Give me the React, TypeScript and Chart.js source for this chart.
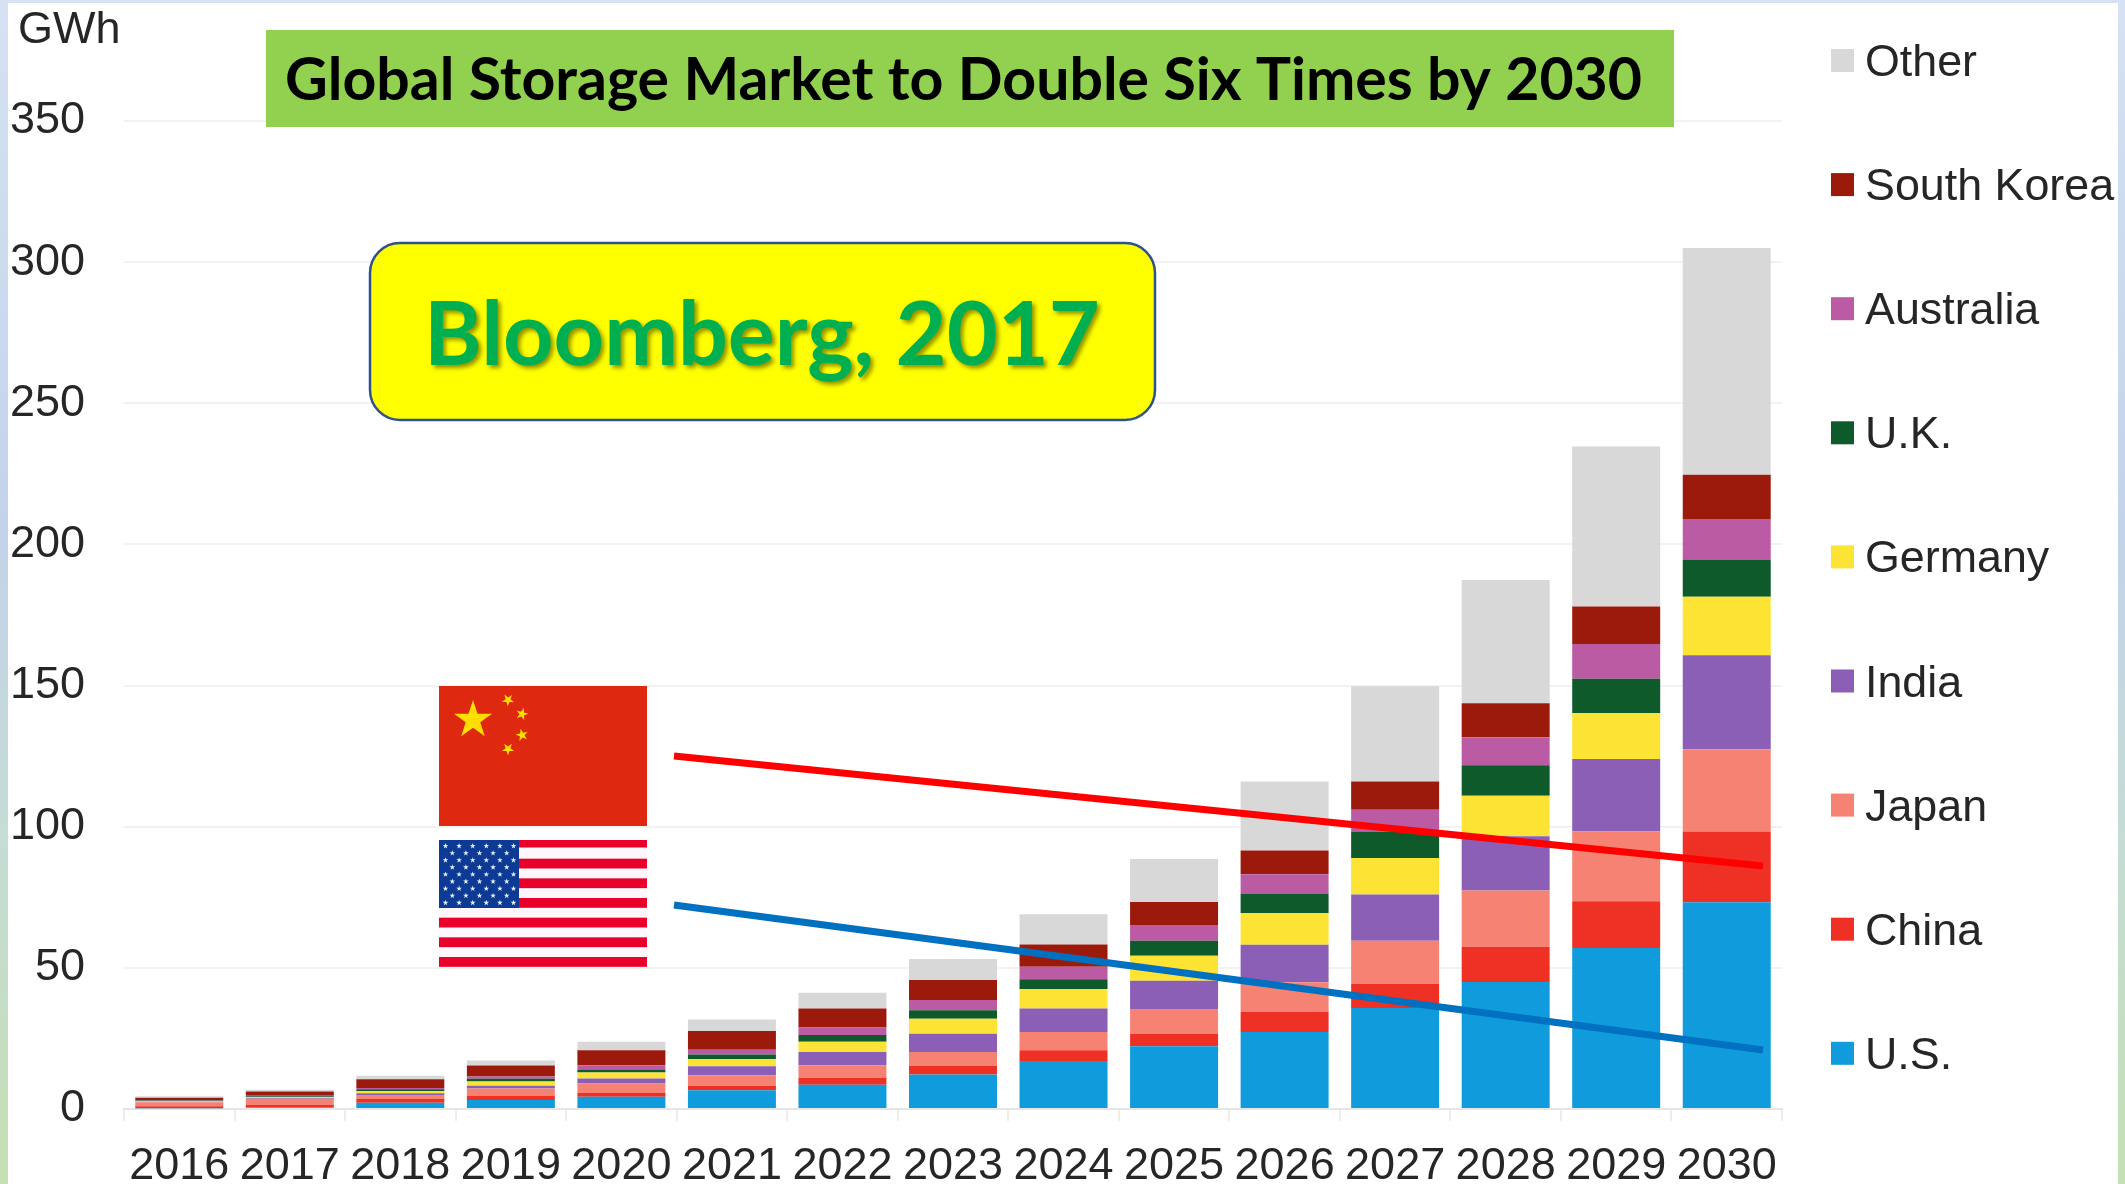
import React, { useEffect, useRef } from "react";
import { Chart, registerables } from "chart.js";

Chart.register(...registerables);

const years = ["2016","2017","2018","2019","2020","2021","2022","2023","2024","2025","2026","2027","2028","2029","2030"];
const us = [0.3,0.6,2.2,3.2,4.3,6.6,8.6,12.2,17,22.2,27.3,35.8,45,57,73.2];
const china = [0.7,0.8,1.3,1.4,1.4,1.6,2.5,3.1,3.8,4.5,7.1,8.6,12.5,16.6,25.1];
const japan = [1.4,2.2,1.5,2.7,3.3,3.8,4.4,4.9,6.5,8.7,10.5,15.2,19.9,24.7,29.1];
const india = [0.2,0.3,0.6,0.9,1.8,3.1,4.7,6.5,8.3,10,13.3,16.4,19.2,25.7,33.3];
const germany = [0.2,0.3,0.8,1.5,2.1,2.5,3.6,5.3,6.9,8.9,11.2,12.9,14.4,16.3,20.8];
const uk = [0.2,0.3,0.6,1,1.1,1.7,2.4,3,3.5,5.3,6.9,9.4,10.8,12.1,13.2];
const australia = [0.2,0.2,0.4,0.8,1.5,1.7,2.7,3.6,4.4,5.6,6.9,7.7,9.9,12.3,14.3];
const southKorea = [0.8,1.5,3.1,3.9,5.3,6.6,6.7,7.1,7.9,8.1,8.4,10,12,13.3,15.7];
const other = [0.5,0.6,1.3,1.8,3,4.1,5.6,7.4,10.7,15.3,24.4,33.8,43.7,56.7,80.3];

const titleText = "Global Storage Market to Double Six Times by 2030";
const sourceText = "Bloomberg, 2017";
const unitText = "GWh";
const SANS = '"Liberation Sans", Arial, sans-serif';
const INK = "#262626";

function star(ctx: CanvasRenderingContext2D, cx: number, cy: number, r: number, rot = -Math.PI / 2) {
  ctx.beginPath();
  for (let i = 0; i < 10; i++) {
    const rad = i % 2 === 0 ? r : r * 0.382;
    const a = rot + (i * Math.PI) / 5;
    const x = cx + rad * Math.cos(a);
    const y = cy + rad * Math.sin(a);
    if (i === 0) ctx.moveTo(x, y);
    else ctx.lineTo(x, y);
  }
  ctx.closePath();
  ctx.fill();
}

const backdrop = {
  id: "backdrop",
  beforeDraw(chart: any) {
    const { ctx, width, height } = chart;
    ctx.save();
    const g = ctx.createLinearGradient(0, 0, 0, height);
    g.addColorStop(0, "#d6e2f3");
    g.addColorStop(0.45, "#c3d3ea");
    g.addColorStop(0.7, "#c6dcd6");
    g.addColorStop(1, "#c5e0b4");
    ctx.fillStyle = g;
    ctx.fillRect(0, 0, width, height);
    ctx.fillStyle = "#ffffff";
    ctx.fillRect(8, 3, 2110, height - 3);
    ctx.restore();
  },
};

const overlay = {
  id: "overlay",
  afterDraw(chart: any) {
    const ctx: CanvasRenderingContext2D = chart.ctx;
    ctx.save();

    // unit
    ctx.fillStyle = INK;
    ctx.font = `45px ${SANS}`;
    ctx.textAlign = "left";
    ctx.textBaseline = "alphabetic";
    ctx.fillText(unitText, 18, 43);

    // legend, built from the datasets
    const ds = chart.data.datasets;
    ds.slice().reverse().forEach((d: any, i: number) => {
      const cy = 60 + i * 124.1;
      ctx.fillStyle = d.backgroundColor;
      ctx.fillRect(1831, cy - 11, 23, 23);
      ctx.fillStyle = INK;
      ctx.font = `44.8px ${SANS}`;
      ctx.fillText(d.label, 1865, cy + 16);
    });

    // title banner
    ctx.fillStyle = "#92d050";
    ctx.fillRect(266, 30, 1408, 97);
    ctx.fillStyle = "#000000";
    ctx.font = 'bold 59px Lato, "Noto Sans", sans-serif';
    ctx.fillText(titleText, 285, 100);

    // source box
    ctx.beginPath();
    ctx.roundRect(370, 243, 785, 177, 30);
    ctx.fillStyle = "#ffff00";
    ctx.fill();
    ctx.lineWidth = 2.5;
    ctx.strokeStyle = "#2f528f";
    ctx.stroke();
    ctx.save();
    ctx.shadowColor = "rgba(60,60,0,0.55)";
    ctx.shadowBlur = 4;
    ctx.shadowOffsetX = 3;
    ctx.shadowOffsetY = 3;
    ctx.fillStyle = "#00b050";
    ctx.font = 'bold 88px Lato, "Noto Sans", sans-serif';
    ctx.fillText(sourceText, 424, 365);
    ctx.restore();

    // China flag
    ctx.fillStyle = "#de2910";
    ctx.fillRect(439, 686, 208, 140);
    ctx.fillStyle = "#ffde00";
    star(ctx, 473, 720, 20);
    star(ctx, 508, 700, 6.5, -0.9);
    star(ctx, 522, 714, 6.5, -1.3);
    star(ctx, 522, 735, 6.5, -1.8);
    star(ctx, 508, 749, 6.5, -2.2);

    // US flag
    ctx.fillStyle = "#fdf6fb";
    ctx.fillRect(439, 840, 208, 127);
    ctx.fillStyle = "#e8002b";
    ctx.fillRect(439, 840, 208, 7.5);
    for (let k = 1; k < 7; k++) {
      const top = 839 + k * 19.67;
      ctx.fillRect(439, top, 208, Math.min(9.8, 967 - top));
    }
    ctx.fillStyle = "#0d3a94";
    ctx.fillRect(439, 840, 80, 68);
    ctx.fillStyle = "#e6effa";
    for (let r = 0; r < 9; r++) {
      const n = r % 2 === 0 ? 6 : 5;
      for (let c = 0; c < n; c++) {
        const x = 445.5 + c * 13.6 + (r % 2 === 0 ? 0 : 6.8);
        star(ctx, x, 846 + r * 7.1, 3);
      }
    }

    // pointer lines
    ctx.lineCap = "butt";
    ctx.lineWidth = 7;
    ctx.strokeStyle = "#ff0000";
    ctx.beginPath();
    ctx.moveTo(674, 756);
    ctx.lineTo(1763, 866);
    ctx.stroke();
    ctx.strokeStyle = "#0070c0";
    ctx.beginPath();
    ctx.moveTo(674, 905);
    ctx.lineTo(1763, 1050);
    ctx.stroke();

    ctx.restore();
  },
};

export default function App() {
  const ref = useRef<HTMLCanvasElement>(null);
  useEffect(() => {
    document.body.style.margin = "0";
    const chart = new Chart(ref.current as HTMLCanvasElement, {
      type: "bar",
      data: {
        labels: years,
        datasets: [
          { label: "U.S.", data: us, backgroundColor: "#109cdc" },
          { label: "China", data: china, backgroundColor: "#ee3124" },
          { label: "Japan", data: japan, backgroundColor: "#f58273" },
          { label: "India", data: india, backgroundColor: "#8b5fb5" },
          { label: "Germany", data: germany, backgroundColor: "#fde334" },
          { label: "U.K.", data: uk, backgroundColor: "#0f5a2a" },
          { label: "Australia", data: australia, backgroundColor: "#bb5ba3" },
          { label: "South Korea", data: southKorea, backgroundColor: "#9b1a0c" },
          { label: "Other", data: other, backgroundColor: "#d8d8d8" },
        ],
      },
      options: {
        responsive: false,
        devicePixelRatio: 1,
        animation: false,
        layout: { padding: { top: 121, right: 343, left: 0, bottom: 0 } },
        plugins: { legend: { display: false }, tooltip: { enabled: false } },
        datasets: { bar: { barPercentage: 0.796, categoryPercentage: 1 } },
        scales: {
          x: {
            stacked: true,
            afterFit: (s: any) => { s.height = 75; },
            border: { color: "#e6e6e6", width: 2 },
            grid: { drawOnChartArea: false, drawTicks: true, tickLength: 12, color: "#f2ebe6", lineWidth: 2 },
            ticks: { autoSkip: false, maxRotation: 0, minRotation: 0, color: INK, padding: 19, font: { family: SANS, size: 45 } },
          },
          y: {
            stacked: true,
            min: 0,
            max: 350,
            afterFit: (s: any) => { s.width = 124; },
            border: { display: false },
            grid: { color: "#f2f2f2", lineWidth: 2, drawTicks: false },
            ticks: { stepSize: 50, color: INK, padding: 39, font: { family: SANS, size: 45 } },
          },
        },
      },
      plugins: [backdrop, overlay],
    } as any);
    return () => chart.destroy();
  }, []);
  return (
    <div style={{ position: "absolute", left: 0, top: 0, width: 2125, height: 1184 }}>
      <canvas ref={ref} width={2125} height={1184} style={{ display: "block", width: 2125, height: 1184 }} />
    </div>
  );
}
